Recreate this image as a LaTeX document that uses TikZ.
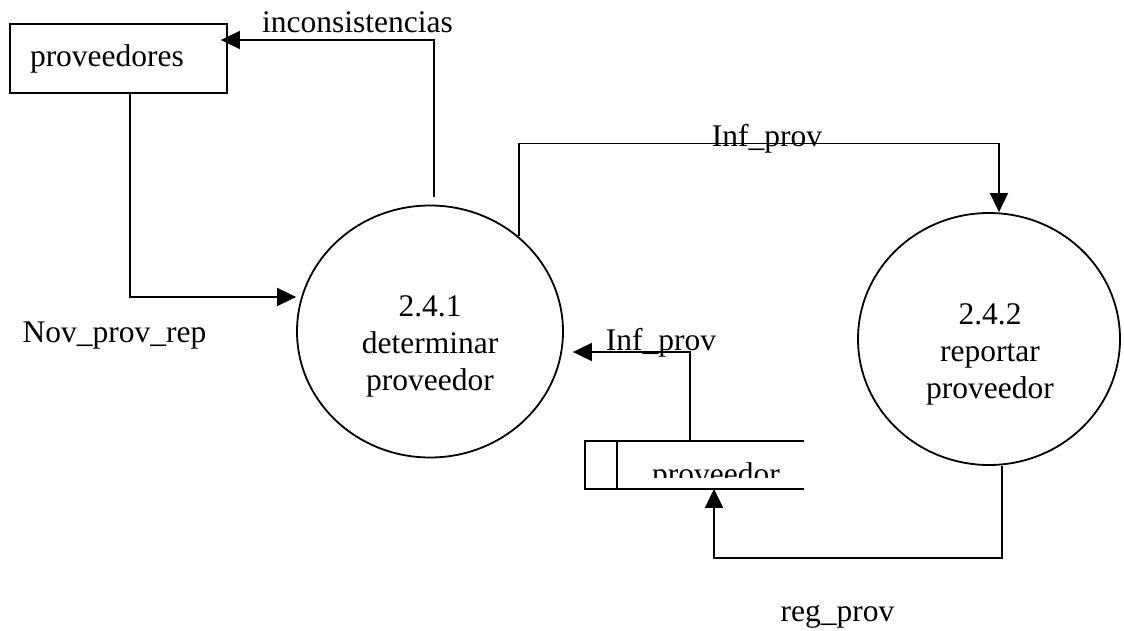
\documentclass[tikz,border=0pt]{standalone}
\usepackage{fontspec}
\setmainfont{Liberation Serif}
\usetikzlibrary{arrows.meta}
\usetikzlibrary{shapes.geometric}
\newcommand{\widthentity}{108.5pt}
\newcommand{\widthstore}{108.5pt}
\newcommand{\widthproc}{133pt}
\tikzset{
    common/.style={font=\fontsize{15.75}{18.5}\selectfont},
    entity/.style={common, draw, rectangle, minimum width=\widthentity, minimum height=34.5pt,
        inner xsep=10pt, inner ysep=0pt, text width=\widthentity-20pt, align=left},
    proc/.style={draw, ellipse, minimum width=\widthproc, minimum height=126pt, inner sep=0pt},
    proctext/.style={common, align=center, inner sep=0pt},
    store/.style={minimum width=\widthstore, minimum height=23pt, inner sep=0pt},
    lbl/.style={common, anchor=base, inner sep=0pt},
    flow/.style={-{Triangle[length=9.5pt, width=9pt]}}
}
\begin{document}
\begin{tikzpicture}[x=0.5pt, y=-0.5pt, line width=0.9pt]
      \useasboundingbox (0,0) rectangle (1124,631);

      \node[entity] (ent) at (118.5,58.5) {proveedores};
      \node[proc] (p1) at (430,331.5) {};
      \node[proctext] (p1txt) at (430,346) {2.4.1\\determinar\\proveedor};
      \node[proc, minimum width=131pt] (p2) at (989,339) {};
      \node[proctext] (p2txt) at (990,354) {2.4.2\\reportar\\proveedor};

      % data store, open on the right
      \node[store] (st) at (694.5,465) {};
      \draw (st.north east) -- (st.north west) -- (st.south west) -- (st.south east);
      \draw ([xshift=16pt]st.north west) -- ([xshift=16pt]st.south west);
      \begin{scope}
          \clip (618,442) rectangle (803,477);
          \node[lbl] (sttxt) at (716,484) {proveedor};
      \end{scope}

      \draw[flow] ([xshift=2pt, yshift=4pt]p1.north) |- ([xshift=-3.5pt, yshift=9.25pt]ent.east);
      \draw[flow] ([xshift=5.75pt]ent.south) |- ([yshift=17.25pt]p1.west);
      \draw[flow] (p1.47) -- ++(0,-93) -| ([xshift=5pt]p2.north);
      \draw[flow] ([xshift=-2.25pt]st.north) |- ([xshift=4.5pt, yshift=-10.25pt]p1.east);
      \draw[flow] ([xshift=6.5pt]p2.south) -- ++(0,92) -| ([xshift=9.75pt]st.south);

      \node[lbl] (l1) at (357.5,33) {inconsistencias};
      \node[lbl] (l2) at (114.5,342) {Nov\_prov\_rep};
      \node[lbl] (l3) at (767,147) {Inf\_prov};
      \node[lbl] (l4) at (661,350) {Inf\_prov};
      \node[lbl] (l5) at (837.5,621) {reg\_prov};
  \end{tikzpicture}
\end{document}
